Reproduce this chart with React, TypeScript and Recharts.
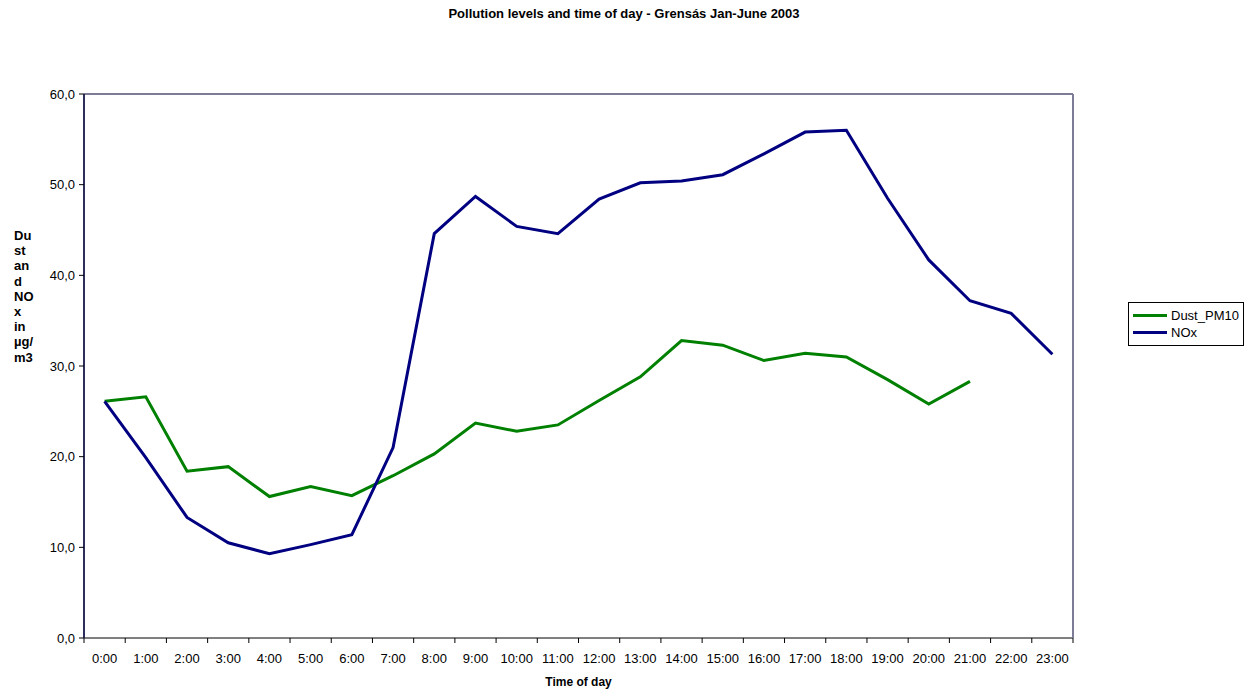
import { LineChart, Line, XAxis, YAxis, Legend } from "recharts";

const hours = [
  "0:00", "1:00", "2:00", "3:00", "4:00", "5:00", "6:00", "7:00",
  "8:00", "9:00", "10:00", "11:00", "12:00", "13:00", "14:00", "15:00",
  "16:00", "17:00", "18:00", "19:00", "20:00", "21:00", "22:00", "23:00",
];

const dustPm10 = [
  26.1, 26.6, 18.4, 18.9, 15.6, 16.7, 15.7, 17.9, 20.3, 23.7, 22.8, 23.5,
  26.2, 28.8, 32.8, 32.3, 30.6, 31.4, 31.0, 28.5, 25.8, 28.3, null, null,
];

const nox = [
  26.1, 19.9, 13.3, 10.5, 9.3, 10.3, 11.4, 21.0, 44.6, 48.7, 45.4, 44.6,
  48.4, 50.2, 50.4, 51.1, 53.4, 55.8, 56.0, 48.5, 41.7, 37.2, 35.8, 31.3,
];

const yTicks = [0, 10, 20, 30, 40, 50, 60];
const yLabelLines = ["Du", "st", "an", "d", "NO", "x", "in", "µg/", "m3"];

const data = hours.map((h, i) => ({ hour: h, Dust_PM10: dustPm10[i], NOx: nox[i] }));

const FONT = "'Liberation Sans', Arial, sans-serif";
const GREEN = "#008000";
const NAVY = "#000080";
const FRAME = "#7c7c96";

const HourTick = (props: any) => {
  const { x, y, payload, index } = props;
  const half = payload?.offset || 20.6;
  return (
    <g>
      <line x1={x - half} x2={x - half} y1={y} y2={y + 5} stroke="#000" />
      {index === hours.length - 1 && (
        <line x1={x + half} x2={x + half} y1={y} y2={y + 5} stroke="#000" />
      )}
      <text x={x} y={y + 25} textAnchor="middle" fontSize={13} fontFamily={FONT} fill="#000">
        {payload.value}
      </text>
    </g>
  );
};

const YLabel = () => (
  <text x={14} y={240} fontSize={13} fontWeight="bold" fontFamily={FONT} fill="#000">
    {yLabelLines.map((l, i) => (
      <tspan key={i} x={14} dy={i === 0 ? 0 : 15.2}>{l}</tspan>
    ))}
  </text>
);

const LegendBox = () => (
  <div
    style={{
      border: "1px solid #000",
      width: 116,
      padding: "4px 0 4px 4px",
      fontFamily: FONT,
      fontSize: 13,
      background: "#fff",
      boxSizing: "border-box",
    }}
  >
    {[
      { name: "Dust_PM10", color: GREEN },
      { name: "NOx", color: NAVY },
    ].map(item => (
      <div key={item.name} style={{ display: "flex", alignItems: "center", height: 17 }}>
        <span style={{ display: "inline-block", width: 34, height: 3, background: item.color, marginRight: 4 }} />
        <span>{item.name}</span>
      </div>
    ))}
  </div>
);

export default function App() {
  return (
    <div style={{ position: "absolute", left: 0, top: 0, width: 1248, height: 691, background: "#fff" }}>
      <div
        style={{
          position: "absolute",
          top: 6,
          width: 1248,
          textAlign: "center",
          fontFamily: FONT,
          fontWeight: "bold",
          fontSize: 13,
        }}
      >
        Pollution levels and time of day - Grensás Jan-June 2003
      </div>
      <LineChart
        width={1248}
        height={691}
        data={data}
        margin={{ top: 93, right: 174, bottom: 0, left: 24 }}
      >
        <XAxis
          dataKey="hour"
          scale="band"
          interval={0}
          axisLine={{ stroke: "#000", strokeWidth: 1 }}
          tickLine={false}
          tickSize={0}
          tickMargin={0}
          height={53}
          tick={<HourTick />}
          label={{
            value: "Time of day",
            position: "insideBottom",
            offset: 5,
            fontSize: 12,
            fontWeight: "bold",
            fontFamily: FONT,
            fill: "#000",
          }}
        />
        <XAxis
          xAxisId="top"
          dataKey="hour"
          scale="band"
          orientation="top"
          height={1}
          tick={false}
          tickLine={false}
          axisLine={{ stroke: FRAME, strokeWidth: 2 }}
        />
        <YAxis
          domain={[0, 60]}
          ticks={yTicks}
          width={60}
          tickSize={5}
          tickMargin={4}
          tickLine={{ stroke: "#000" }}
          axisLine={{ stroke: "#2e2e5c", strokeWidth: 2 }}
          tickFormatter={(v: number) => v.toFixed(1).replace(".", ",")}
          tick={{ fontSize: 13, fontFamily: FONT, fill: "#000" }}
          label={<YLabel />}
        />
        <YAxis
          yAxisId="right"
          orientation="right"
          domain={[0, 60]}
          width={1}
          tick={false}
          tickLine={false}
          axisLine={{ stroke: FRAME, strokeWidth: 2 }}
        />
        <Legend
          layout="horizontal"
          align="center"
          verticalAlign="middle"
          content={<LegendBox />}
          wrapperStyle={{ position: "absolute", left: 1128, top: 302, width: 116 }}
        />
        <Line
          type="linear"
          dataKey="Dust_PM10"
          stroke={GREEN}
          strokeWidth={3}
          dot={false}
          isAnimationActive={false}
        />
        <Line
          type="linear"
          dataKey="NOx"
          stroke={NAVY}
          strokeWidth={3}
          dot={false}
          isAnimationActive={false}
        />
      </LineChart>
    </div>
  );
}
